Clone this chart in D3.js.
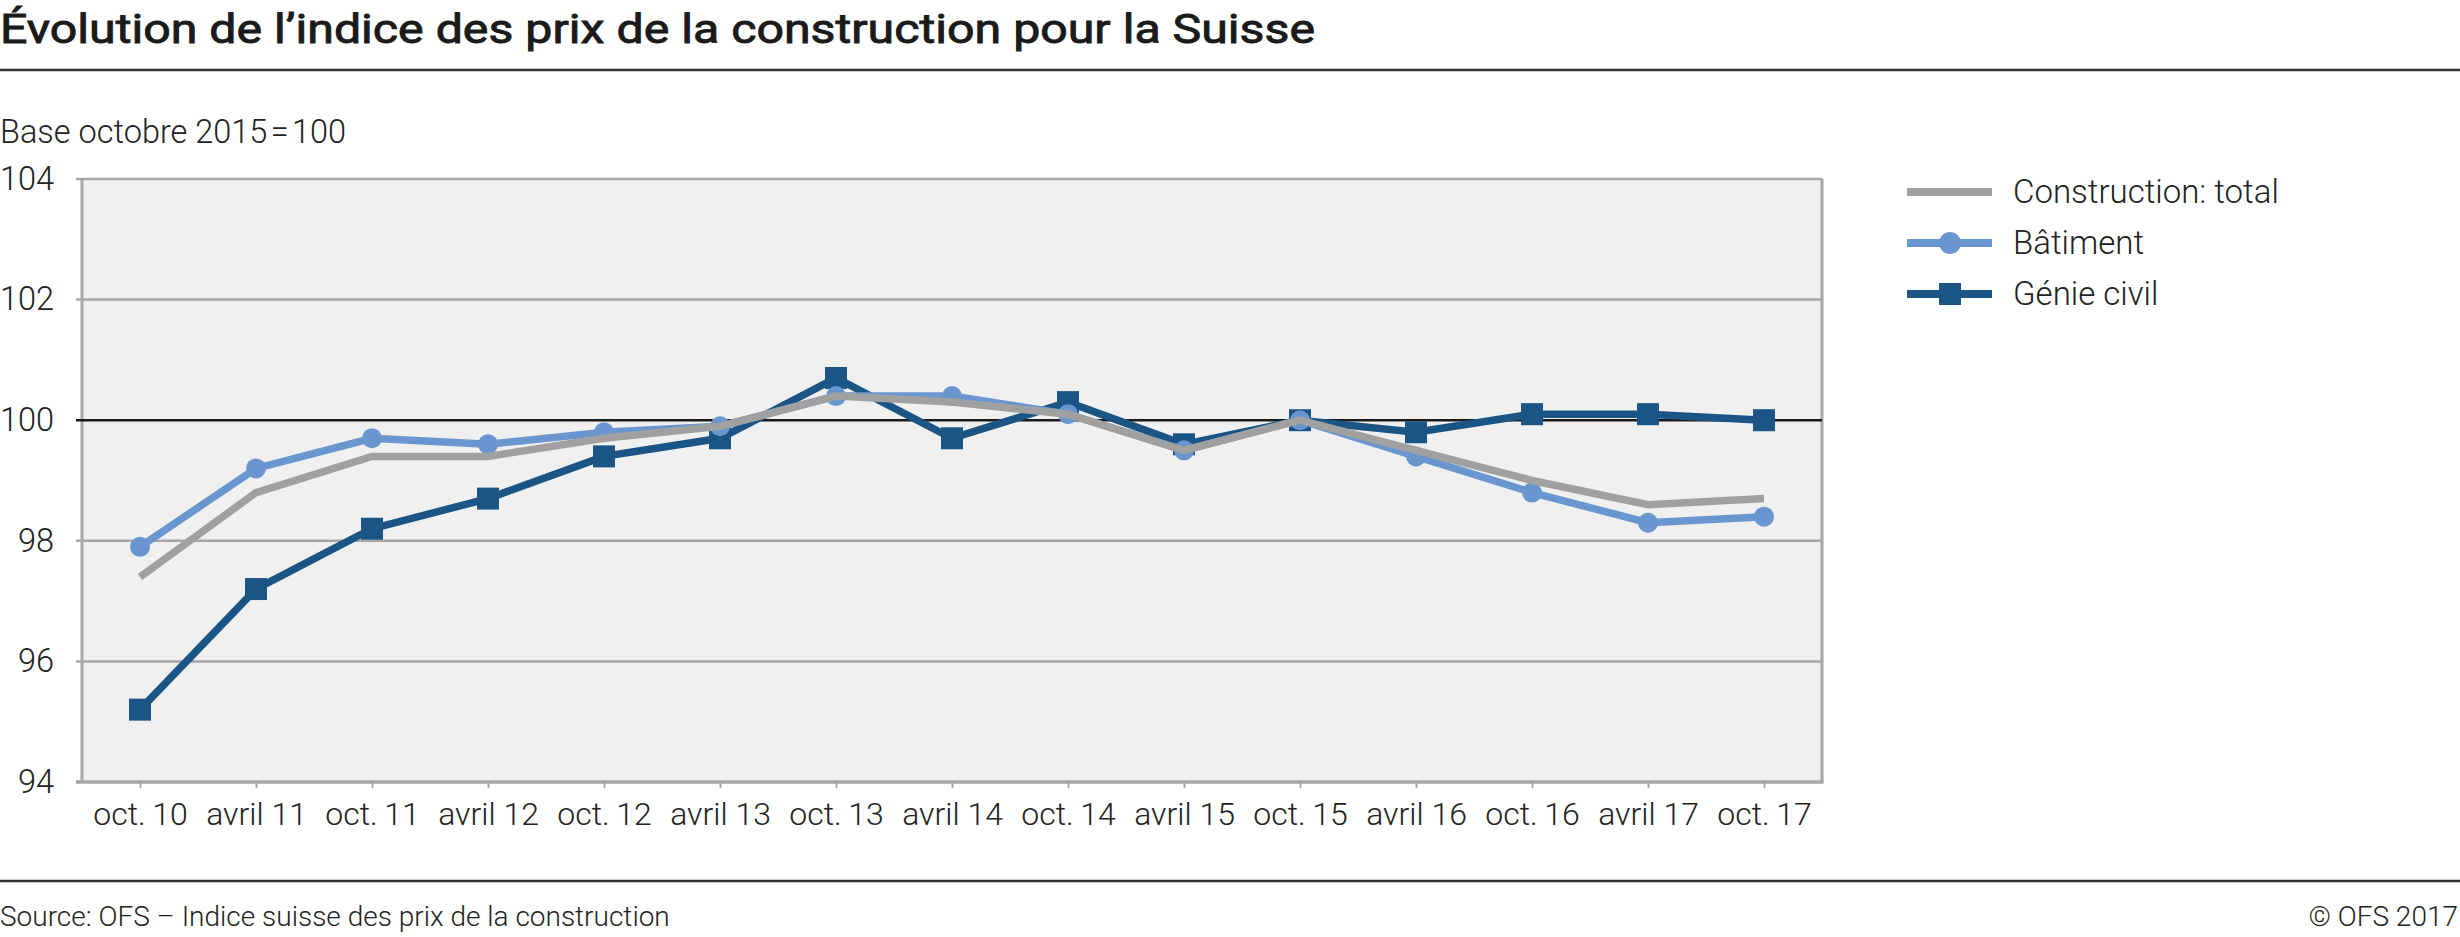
<!DOCTYPE html>
<html>
<head>
<meta charset="utf-8">
<script src="https://cdn.jsdelivr.net/npm/d3@7"></script>
<style>
  html, body { margin: 0; padding: 0; background: #fff; }
  svg { display: block; font-family: Roboto, "Noto Sans", sans-serif; }
</style>
</head>
<body>
<svg id="chart" width="2460" height="937"></svg>
<script>
// ---- Data ----
const categories = ["oct.\u200910", "avril 11", "oct.\u200911", "avril 12", "oct.\u200912", "avril 13", "oct.\u200913",
  "avril 14", "oct.\u200914", "avril 15", "oct.\u200915", "avril 16", "oct.\u200916", "avril 17", "oct.\u200917"];
const totalValues    = [97.4, 98.8, 99.4, 99.4, 99.7, 99.9, 100.4, 100.3, 100.1, 99.5, 100.0, 99.5, 99.0, 98.6, 98.7];
const batimentValues = [97.9, 99.2, 99.7, 99.6, 99.8, 99.9, 100.4, 100.4, 100.1, 99.5, 100.0, 99.4, 98.8, 98.3, 98.4];
const genieValues    = [95.2, 97.2, 98.2, 98.7, 99.4, 99.7, 100.7, 99.7, 100.3, 99.6, 100.0, 99.8, 100.1, 100.1, 100.0];
const yTicks = [94, 96, 98, 100, 102, 104];
const seriesNames = ["Construction: total", "Bâtiment", "Génie civil"];

const titleText = "Évolution de l\u2019indice des prix de la construction pour la Suisse";
const subtitleText = "Base octobre 2015\u200A=\u200A100";
const sourceText = "Source: OFS \u2013 Indice suisse des prix de la construction";
const copyrightText = "\u00A9 OFS 2017";

// ---- Layout ----
const W = 2460, H = 937;
const plot = { left: 82, right: 1822, top: 179, bottom: 782 };
const colors = { total: "#a0a0a0", bat: "#6a96d0", gen: "#1b5586" };
const textColor = "#222";

const svg = d3.select("#chart");
svg.append("rect").attr("width", W).attr("height", H).attr("fill", "#fff");

const x = d3.scalePoint().domain(categories).range([plot.left, plot.right]).padding(0.5);
const y = d3.scaleLinear().domain([94, 104]).range([plot.bottom, plot.top]);

// Title
svg.append("text").attr("x", 0).attr("y", 43)
  .attr("font-size", 41).attr("font-weight", 400).attr("fill", "#1a1a1a")
  .attr("stroke", "#1a1a1a").attr("stroke-width", 0.9)
  .attr("textLength", 1315).attr("lengthAdjust", "spacingAndGlyphs")
  .text(titleText);
svg.append("line").attr("x1", 0).attr("x2", W).attr("y1", 70).attr("y2", 70)
  .attr("stroke", "#333").attr("stroke-width", 2.5);

// Subtitle
svg.append("text").attr("x", 0).attr("y", 143)
  .attr("font-size", 32.5).attr("font-weight", 300).attr("fill", textColor)
  .text(subtitleText);

// Plot background
svg.append("rect").attr("x", plot.left).attr("y", plot.top)
  .attr("width", plot.right - plot.left).attr("height", plot.bottom - plot.top)
  .attr("fill", "#f0f0f0");

// Gridlines
const grid = svg.append("g");
grid.selectAll("line").data(yTicks.filter(d => d !== 94 && d !== 100)).join("line")
  .attr("x1", plot.left - 6).attr("x2", plot.right)
  .attr("y1", d => y(d)).attr("y2", d => y(d))
  .attr("stroke", "#a6a6a6").attr("stroke-width", 2.5);
// frame sides
svg.append("line").attr("x1", plot.left).attr("x2", plot.left)
  .attr("y1", plot.top).attr("y2", plot.bottom)
  .attr("stroke", "#a6a6a6").attr("stroke-width", 3);
svg.append("line").attr("x1", plot.right).attr("x2", plot.right)
  .attr("y1", plot.top).attr("y2", plot.bottom)
  .attr("stroke", "#a6a6a6").attr("stroke-width", 3);
// 100 line
svg.append("line").attr("x1", plot.left - 6).attr("x2", plot.right)
  .attr("y1", y(100)).attr("y2", y(100))
  .attr("stroke", "#1a1a1a").attr("stroke-width", 2.5);

// Y axis labels
svg.append("g").selectAll("text").data(yTicks).join("text")
  .attr("x", 54).attr("y", d => y(d)).attr("dy", "0.33em")
  .attr("text-anchor", "end").attr("font-size", 32.5).attr("font-weight", 300)
  .attr("fill", textColor).text(d => d);

// X axis
const xAxis = d3.axisBottom(x).tickSize(6).tickPadding(14);
const gx = svg.append("g").attr("transform", `translate(0,${plot.bottom})`).call(xAxis);
gx.select(".domain").remove();
gx.selectAll(".tick line").attr("stroke", "#a6a6a6").attr("stroke-width", 2);
gx.selectAll(".tick text").attr("font-size", 32).attr("font-weight", 300)
  .attr("fill", textColor).attr("font-family", "Roboto, sans-serif").attr("dy", "0.71em");
svg.append("line").attr("x1", plot.left - 6).attr("x2", plot.right + 1.5)
  .attr("y1", plot.bottom).attr("y2", plot.bottom)
  .attr("stroke", "#a6a6a6").attr("stroke-width", 3.5);

// Lines
const line = d3.line().x((d, i) => x(categories[i])).y(d => y(d));
function drawSeries(values, color, marker) {
  const g = svg.append("g");
  g.append("path").datum(values).attr("d", line)
    .attr("fill", "none").attr("stroke", color).attr("stroke-width", 7.5)
    .attr("stroke-linejoin", "miter");
  if (marker === "circle") {
    g.selectAll("circle").data(values).join("circle")
      .attr("cx", (d, i) => x(categories[i])).attr("cy", d => y(d)).attr("r", 10)
      .attr("fill", color);
  } else if (marker === "square") {
    g.selectAll("rect").data(values).join("rect")
      .attr("x", (d, i) => x(categories[i]) - 11).attr("y", d => y(d) - 11)
      .attr("width", 22).attr("height", 22).attr("fill", color);
  }
}
drawSeries(genieValues, colors.gen, "square");
drawSeries(batimentValues, colors.bat, "circle");
drawSeries(totalValues, colors.total, null);

// Legend
const legendItems = [
  { name: seriesNames[0], color: colors.total, marker: null, y: 192 },
  { name: seriesNames[1], color: colors.bat, marker: "circle", y: 243 },
  { name: seriesNames[2], color: colors.gen, marker: "square", y: 294 }
];
const lg = svg.append("g");
legendItems.forEach(it => {
  lg.append("line").attr("x1", 1907).attr("x2", 1992).attr("y1", it.y).attr("y2", it.y)
    .attr("stroke", it.color).attr("stroke-width", 8);
  if (it.marker === "circle") {
    lg.append("circle").attr("cx", 1950).attr("cy", it.y).attr("r", 11).attr("fill", it.color);
  } else if (it.marker === "square") {
    lg.append("rect").attr("x", 1939).attr("y", it.y - 11).attr("width", 22).attr("height", 22).attr("fill", it.color);
  }
  lg.append("text").attr("x", 2013).attr("y", it.y).attr("dy", "0.33em")
    .attr("font-size", 33).attr("font-weight", 300).attr("fill", textColor).text(it.name);
});

// Footer
svg.append("line").attr("x1", 0).attr("x2", W).attr("y1", 881).attr("y2", 881)
  .attr("stroke", "#333").attr("stroke-width", 2.5);
svg.append("text").attr("x", 0).attr("y", 926)
  .attr("font-size", 28).attr("font-weight", 300).attr("fill", textColor).text(sourceText);
svg.append("text").attr("x", 2458).attr("y", 926).attr("text-anchor", "end")
  .attr("font-size", 28).attr("font-weight", 300).attr("fill", textColor).text(copyrightText);
</script>
</body>
</html>
